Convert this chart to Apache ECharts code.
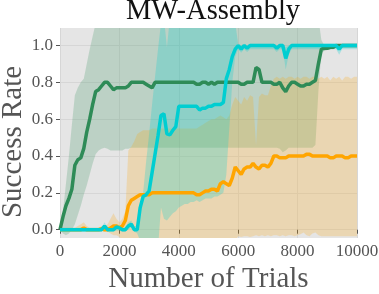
<!DOCTYPE html>
<html><head><meta charset="utf-8">
<script src="https://cdn.jsdelivr.net/npm/echarts@6.0.0/dist/echarts.min.js"></script>
<style>html,body{margin:0;padding:0;background:#fff}#c{width:379px;height:294px}</style>
</head><body><div id="c"></div>
<script>
const trials = [
0,100,200,300,400,500,600,700,800,900,
1000,1100,1200,1300,1400,1500,1600,1700,1800,1900,
2000,2100,2200,2300,2400,2500,2600,2700,2800,2900,
3000,3100,3200,3300,3400,3500,3600,3700,3800,3900,
4000,4100,4200,4300,4400,4500,4600,4700,4800,4900,
5000,5100,5200,5300,5400,5500,5600,5700,5800,5900,
6000,6100,6200,6300,6400,6500,6600,6700,6800,6900,
7000,7100,7200,7300,7400,7500,7600,7700,7800,7900,
8000,8100,8200,8300,8400,8500,8600,8700,8800,8900,
9000,9100,9200,9300,9400,9500,9600,9700,9800,9900,
10000];

const greenMean = [
0,0.07,0.13,0.17,0.22,0.35,0.38,0.39,0.44,0.53,
0.6,0.68,0.75,0.76,0.78,0.8,0.8,0.78,0.76,0.77,
0.77,0.77,0.77,0.78,0.8,0.8,0.8,0.8,0.8,0.79,
0.78,0.77,0.8,0.8,0.8,0.8,0.8,0.8,0.8,0.8,
0.8,0.8,0.8,0.8,0.8,0.8,0.79,0.79,0.8,0.8,
0.79,0.8,0.79,0.8,0.8,0.8,0.8,0.8,0.8,0.8,
0.8,0.79,0.79,0.8,0.8,0.8,0.88,0.87,0.8,0.8,
0.8,0.8,0.79,0.79,0.8,0.77,0.75,0.78,0.8,0.8,
0.79,0.78,0.78,0.79,0.79,0.8,0.81,0.9,0.98,0.985,
0.985,0.99,0.99,1,1,1,1,1,1,1,
1];
const greenLo = [
0,-0.02,-0.03,-0.02,0,0.03,0.08,0.13,0.19,0.24,
0.3,0.36,0.41,0.43,0.44,0.445,0.44,0.43,0.43,0.43,
0.43,0.43,0.44,0.44,0.445,0.445,0.445,0.445,0.445,0.445,
0.445,0.445,0.445,0.445,0.445,0.445,0.445,0.445,0.445,0.445,
0.445,0.445,0.445,0.445,0.445,0.445,0.445,0.445,0.445,0.445,
0.445,0.445,0.445,0.445,0.445,0.445,0.445,0.445,0.445,0.445,
0.445,0.445,0.445,0.445,0.445,0.445,0.445,0.445,0.445,0.445,
0.445,0.445,0.445,0.445,0.44,0.42,0.43,0.445,0.445,0.445,
0.445,0.445,0.445,0.445,0.445,0.445,0.46,0.75,0.96,0.97,
0.975,0.98,0.98,0.99,0.99,0.99,0.99,0.99,0.99,0.99,
0.99];
const greenHi = [
0,0.1,0.25,0.4,0.57,0.73,0.77,0.8,0.82,0.9,
0.98,1.05,1.12,1.3,1.3,1.3,1.3,1.3,1.3,1.3,
1.3,1.3,1.3,1.3,1.3,1.3,1.3,1.3,1.3,1.3,
1.3,1.3,1.3,1.3,1.3,1.3,1.3,1.3,1.3,1.3,
1.3,1.3,1.3,1.3,1.3,1.3,1.3,1.3,1.3,1.3,
1.3,1.3,1.3,1.3,1.3,1.3,1.3,1.3,1.3,1.3,
1.3,1.3,1.3,1.3,1.3,1.3,1.3,1.3,1.3,1.3,
1.3,1.3,1.3,1.3,1.3,1.3,1.3,1.3,1.3,1.3,
1.3,1.3,1.3,1.3,1.3,1.3,1.3,1.15,1.03,1.0,
1.005,1.005,1.005,1.005,1.005,1.005,1.005,1.005,1.005,1.005,
1.005];

const cyanMean = [
0,0,0,0,0,0,0,0,0,0,
0,0,0,0,0,0.02,0,0,0,0.015,
0.01,0,0,0.02,0.03,0,0,0.12,0.18,0.19,
0.21,0.31,0.41,0.51,0.62,0.63,0.52,0.515,0.54,0.56,
0.67,0.67,0.67,0.67,0.67,0.67,0.67,0.65,0.66,0.66,
0.67,0.67,0.68,0.68,0.68,0.69,0.82,0.87,0.94,0.98,
1,0.98,1,0.985,1,1,1,1,1,1,
1,1,1,0.985,1,1,0.93,0.98,1,1,
1,1,1,1,1,1,1,1,1,1,
1,1,1,1,0.98,1,1,1,1,1,
1];
const cyanLo = [
-0.01,-0.01,-0.01,-0.01,-0.01,-0.01,-0.01,-0.01,-0.01,-0.01,
-0.01,-0.01,-0.01,-0.01,-0.01,0,-0.01,-0.01,-0.01,-0.005,
-0.005,-0.01,-0.01,0,0.01,-0.01,-0.02,-0.06,-0.2,-0.2,
-0.2,-0.2,-0.2,-0.1,0.12,0.06,0.05,0.07,0.09,0.1,
0.12,0.13,0.14,0.14,0.15,0.15,0.16,0.15,0.16,0.17,
0.17,0.17,0.18,0.18,0.19,0.2,0.3,0.55,0.8,0.94,
0.98,0.96,0.98,0.965,0.98,0.98,0.98,0.98,0.98,0.98,
0.98,0.98,0.98,0.965,0.98,0.98,0.87,0.95,0.98,0.98,
0.98,0.98,0.98,0.98,0.98,0.98,0.98,0.98,0.98,0.98,
0.98,0.98,0.98,0.98,0.95,0.98,0.98,0.98,0.98,0.98,
0.98];
const cyanHi = [
0.01,0.01,0.01,0.01,0.01,0.01,0.01,0.01,0.01,0.01,
0.01,0.01,0.01,0.01,0.01,0.04,0.01,0.01,0.01,0.03,
0.025,0.01,0.01,0.04,0.05,0.02,0.02,0.1,0.2,0.37,
0.52,0.68,0.83,0.98,1.12,1.15,0.99,1.15,1.3,1.3,
1.3,1.3,1.3,1.3,1.3,1.3,1.3,1.3,1.3,1.3,
1.3,1.3,1.3,1.3,1.3,1.3,1.3,1.3,1.3,1.12,
1.01,1.0,1.01,1.0,1.01,1.01,1.01,1.01,1.01,1.01,
1.01,1.01,1.01,1.0,1.01,1.01,0.99,1.0,1.01,1.01,
1.01,1.01,1.01,1.01,1.01,1.01,1.01,1.01,1.01,1.01,
1.01,1.01,1.01,1.01,1.0,1.01,1.01,1.01,1.01,1.01,
1.01];

const orangeMean = [
0,0,0,0,0,0,0,0,0.01,0,
0,0,0,0,0.005,0,0,0.01,0.02,0.02,
0.01,0.02,0.05,0.13,0.16,0.17,0.18,0.19,0.19,0.19,
0.19,0.2,0.2,0.2,0.2,0.2,0.2,0.2,0.2,0.2,
0.2,0.2,0.2,0.2,0.2,0.2,0.19,0.19,0.2,0.21,
0.21,0.22,0.22,0.21,0.25,0.26,0.25,0.24,0.28,0.34,
0.32,0.3,0.33,0.34,0.34,0.36,0.34,0.33,0.35,0.35,
0.34,0.36,0.4,0.4,0.39,0.39,0.39,0.4,0.4,0.4,
0.4,0.4,0.4,0.41,0.41,0.4,0.4,0.4,0.4,0.4,
0.4,0.39,0.39,0.4,0.4,0.4,0.39,0.39,0.4,0.4,
0.4];
const orangeLo = [
0,-0.01,-0.01,-0.01,-0.01,-0.01,-0.01,-0.01,-0.01,-0.01,
-0.01,-0.01,-0.01,-0.01,-0.01,-0.01,-0.01,-0.02,-0.03,-0.03,
-0.04,-0.06,-0.1,-0.2,-0.2,-0.2,-0.2,-0.2,-0.2,-0.2,
-0.2,-0.2,-0.2,-0.2,-0.2,-0.2,-0.2,-0.2,-0.2,-0.2,
-0.2,-0.2,-0.2,-0.2,-0.2,-0.2,-0.2,-0.2,-0.2,-0.2,
-0.2,-0.2,-0.2,-0.2,-0.2,-0.2,-0.2,-0.2,-0.2,-0.06,
-0.035,-0.04,-0.035,-0.035,-0.04,-0.035,-0.03,-0.035,-0.03,-0.035,
-0.03,-0.035,-0.03,-0.03,-0.035,-0.03,-0.035,-0.03,-0.03,-0.035,
-0.03,-0.025,-0.015,-0.03,-0.035,-0.02,-0.015,-0.03,-0.035,-0.035,
-0.035,-0.035,-0.035,-0.035,-0.035,-0.035,-0.035,-0.035,-0.035,-0.035,
-0.035];
const orangeHi = [
0.01,0.01,0.01,0.01,0.01,0.01,0.02,0.03,0.04,0.02,
0.01,0.01,0.01,0.01,0.02,0.02,0.03,0.06,0.09,0.06,
0.04,0.06,0.1,0.43,0.45,0.48,0.52,0.53,0.54,0.54,
0.54,0.55,0.55,0.55,0.55,0.55,0.55,0.55,0.55,0.55,
0.55,0.55,0.55,0.55,0.55,0.55,0.55,0.56,0.57,0.58,
0.59,0.6,0.6,0.61,0.62,0.61,0.6,0.62,0.68,0.72,
0.7,0.68,0.72,0.7,0.73,0.72,0.46,0.72,0.74,0.73,
0.73,0.78,0.82,0.83,0.82,0.83,0.82,0.83,0.83,0.82,
0.83,0.82,0.83,0.83,0.82,0.83,0.83,0.82,0.83,0.82,
0.83,0.81,0.83,0.82,0.83,0.81,0.83,0.83,0.82,0.83,
0.83];

const yTicks = [0, 0.2, 0.4, 0.6, 0.8, 1.0];

const FONT = 'Liberation Serif';
function pairs(ys){ return trials.map((x,i)=>[x, ys[i]]); }
function band(lo, hi, color){
  return {type:'custom', data:[[trials[0], lo[0]]], clip:true, silent:true, z:1,
    renderItem:function(params, api){
      const pts=[];
      for(let i=0;i<trials.length;i++) pts.push(api.coord([trials[i], hi[i]]));
      for(let i=trials.length-1;i>=0;i--) pts.push(api.coord([trials[i], lo[i]]));
      return {type:'polygon', shape:{points:pts}, style:{fill:color}};
    }};
}
function line(ys, color){
  return {type:'line', data:pairs(ys), symbol:'none', lineStyle:{color:color, width:3.5}, silent:true, z:3};
}
const chart = echarts.init(document.getElementById('c'), null, {renderer:'canvas'});
chart.setOption({
  animation:false,
  title:{text:'MW-Assembly', left:208, top:-8, textAlign:'center', textStyle:{fontFamily:FONT, fontSize:28.5, fontWeight:'normal', color:'#111'}},
  graphic:[{type:'text', x:13, y:142, rotation:Math.PI/2, silent:true,
    style:{text:'Success Rate', fill:'#555', font:'29px "Liberation Serif"', align:'center', verticalAlign:'middle'}}],
  grid:{left:60, right:22, top:28, bottom:56, show:true, backgroundColor:'#e5e5e5', borderWidth:0, outerBoundsMode:'none', containLabel:false},
  xAxis:{type:'value', min:0, max:10000, interval:2000,
    axisLine:{show:false}, axisTick:{show:true, length:4, lineStyle:{color:'#555'}},
    axisLabel:{color:'#555', fontFamily:FONT, fontSize:17, margin:5, formatter:v=>String(v)},
    splitLine:{show:true, lineStyle:{color:'#d6d6d6', width:1}},
    name:'Number of Trials', nameLocation:'middle', nameGap:22,
    nameTextStyle:{fontFamily:FONT, fontSize:29, color:'#555'}},
  yAxis:{type:'value', min:-0.045, max:1.095,
    axisLine:{show:false}, axisTick:{show:true, length:4, lineStyle:{color:'#555'}, customValues:yTicks},
    axisLabel:{color:'#555', fontFamily:FONT, fontSize:17, margin:7, customValues:yTicks, formatter:v=>v.toFixed(1)},
    splitLine:{show:true, lineStyle:{color:'#d6d6d6', width:1}}},
  series:[
    band(greenLo, greenHi, 'rgba(46,139,87,0.22)'),
    band(orangeLo, orangeHi, 'rgba(255,165,0,0.22)'),
    band(cyanLo, cyanHi, 'rgba(0,206,209,0.25)'),
    line(greenMean, '#2e8b57'),
    line(orangeMean, '#ffa500'),
    line(cyanMean, '#00ced1')
  ]
});
</script></body></html>
